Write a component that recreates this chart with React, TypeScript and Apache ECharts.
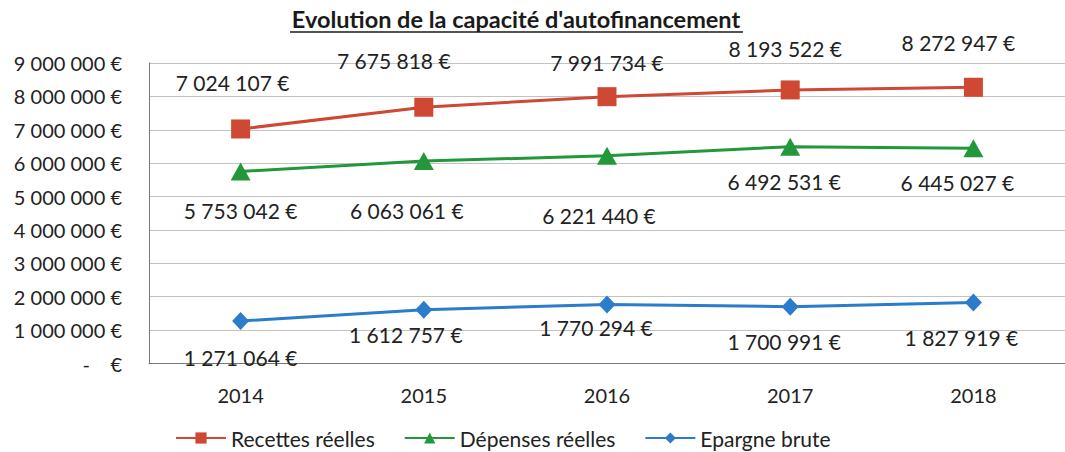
import React, { useEffect, useRef } from "react";
import * as echarts from "echarts";

const categories = ["2014", "2015", "2016", "2017", "2018"];
const recettes = [7024107, 7675818, 7991734, 8193522, 8272947];
const depenses = [5753042, 6063061, 6221440, 6492531, 6445027];
const epargne = [1271064, 1612757, 1770294, 1700991, 1827919];
const seriesNames = ["Recettes réelles", "Dépenses réelles", "Epargne brute"];
const titleText = "Evolution de la capacité d'autofinancement";

// label placement (layout only), offsets in px relative to the marker centre
const recettesLabelOffsets = [[-8, -46], [-30, -47], [0, -34], [-5, -41], [-15, -45]];
const depensesLabelOffsets = [[0, 39], [-17, 49], [-8, 60], [-6, 35], [-16, 34]];
const epargneLabelOffsets = [[0, 36], [-18, 25], [-11, 23], [-6, 35], [-12, 35]];

const FONT = "Lato, 'Open Sans', sans-serif";

function fmt(v: number): string {
  return v.toString().replace(/\B(?=(\d{3})+(?!\d))/g, " ") + " €";
}

function buildData(values: number[], offsets: number[][]) {
  return values.map((v, i) => ({
    value: v,
    label: { offset: offsets[i] },
  }));
}

export default function App() {
  const ref = useRef<HTMLDivElement>(null);

  useEffect(() => {
    if (!ref.current) return;
    const chart = echarts.init(ref.current, undefined, { renderer: "svg" });

    const labelStyle = {
      show: true,
      position: "inside",
      align: "center",
      verticalAlign: "middle",
      fontFamily: FONT,
      fontSize: 21,
      color: "#222",
      formatter: (p: any) => fmt(p.value),
    };

    const mkSeries = (
      name: string,
      values: number[],
      offsets: number[][],
      color: string,
      symbol: string,
      symbolSize: any
    ) => ({
      name,
      type: "line",
      data: buildData(values, offsets),
      symbol,
      symbolSize,
      showAllSymbol: true,
      lineStyle: { color, width: 3 },
      itemStyle: { color, borderWidth: 0 },
      label: labelStyle,
      z: 3,
    });

    chart.setOption({
      animation: false,
      backgroundColor: "#ffffff",
      graphic: [
        {
          type: "text",
          x: 516,
          y: 19,
          style: {
            text: titleText,
            fontFamily: FONT,
            fontWeight: "bold",
            fontSize: 23.5,
            fill: "#1a1a1a",
            textAlign: "center",
            textVerticalAlign: "middle",
          },
        },
        {
          type: "line",
          shape: { x1: 290, y1: 32, x2: 743, y2: 32 },
          style: { stroke: "#1a1a1a", lineWidth: 1.5 },
        },
      ],
      grid: {
        left: 149,
        top: 63,
        width: 924,
        height: 300.5,
        containLabel: false,
      },
      legend: {
        left: 175,
        top: 427,
        itemWidth: 50,
        itemHeight: 14,
        itemGap: 29,
        padding: 0,
        data: seriesNames,
        textStyle: { fontFamily: FONT, fontSize: 21, color: "#222", lineHeight: 22 },
      },
      xAxis: {
        type: "category",
        data: categories,
        boundaryGap: true,
        axisLine: { show: true, lineStyle: { color: "#777", width: 1 } },
        axisTick: { show: false },
        axisLabel: {
          margin: 21,
          fontFamily: FONT,
          fontSize: 20,
          color: "#222",
        },
      },
      yAxis: {
        type: "value",
        min: 0,
        max: 9000000,
        interval: 1000000,
        axisLine: { show: true, lineStyle: { color: "#777", width: 1 } },
        axisTick: { show: false },
        splitLine: { lineStyle: { color: "#c2c2c2", width: 1 } },
        axisLabel: {
          margin: 27,
          fontFamily: FONT,
          fontSize: 20,
          color: "#222",
          formatter: (v: number) => (v === 0 ? "-    €" : fmt(v)),
        },
      },
      series: [
        mkSeries(seriesNames[0], recettes, recettesLabelOffsets, "#cf4833", "rect", [19, 19]),
        mkSeries(seriesNames[1], depenses, depensesLabelOffsets, "#23983a", "triangle", [20, 18]),
        mkSeries(seriesNames[2], epargne, epargneLabelOffsets, "#2b7ccb", "diamond", [17, 18]),
      ],
    });

    return () => chart.dispose();
  }, []);

  return (
    <div
      ref={ref}
      style={{ position: "fixed", left: 0, top: 0, width: 1065, height: 452, background: "#fff" }}
    />
  );
}
